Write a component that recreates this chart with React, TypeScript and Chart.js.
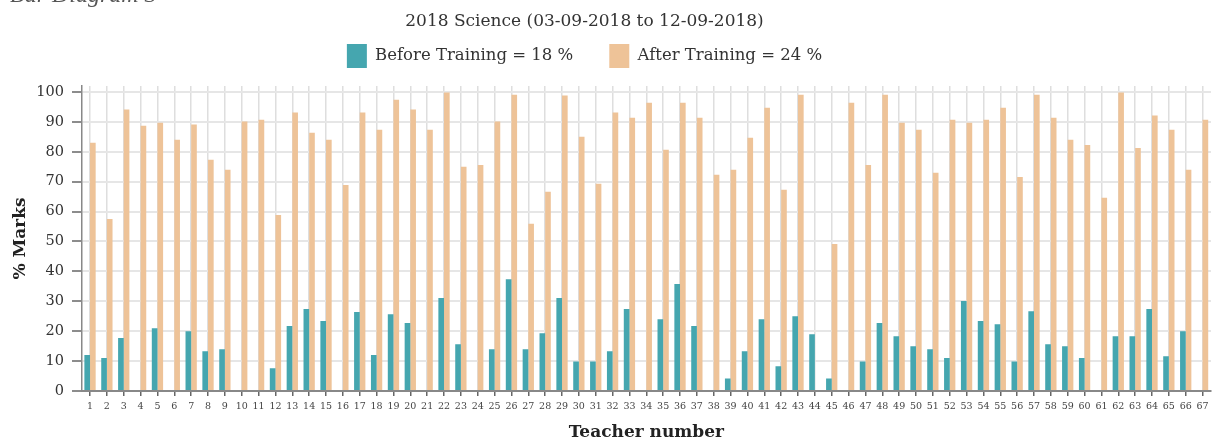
import React, { useEffect, useRef } from "react";
import { Chart, registerables } from "chart.js";

Chart.register(...registerables);

const teachers: string[] = Array.from({ length: 67 }, (_, i) => String(i + 1));

const beforeTraining: number[] = [
  12.0, 11.0, 17.7, 0, 21.0, 0, 20.0, 13.3, 14.0, 0,
  0, 7.6, 21.7, 27.4, 23.4, 0, 26.4, 12.0, 25.7, 22.7,
  0, 31.1, 15.6, 0, 14.0, 37.4, 14.0, 19.3, 31.1, 9.9,
  9.9, 13.3, 27.4, 0, 24.0, 35.8, 21.7, 0, 4.2, 13.3,
  24.0, 8.3, 25.0, 19.0, 4.2, 0, 9.9, 22.7, 18.3, 15.0,
  14.0, 11.0, 30.1, 23.4, 22.3, 9.9, 26.7, 15.6, 15.0, 11.0,
  0, 18.3, 18.3, 27.4, 11.6, 20.0, 0,
];

const afterTraining: number[] = [
  83.0, 57.5, 94.1, 88.7, 89.7, 84.0, 89.1, 77.3, 74.0, 90.1,
  90.7, 58.9, 93.1, 86.4, 84.0, 68.9, 93.1, 87.4, 97.4, 94.1,
  87.4, 99.8, 75.0, 75.6, 90.1, 99.1, 55.9, 66.6, 98.8, 85.0,
  69.3, 93.1, 91.4, 96.4, 80.7, 96.4, 91.4, 72.3, 74.0, 84.7,
  94.7, 67.3, 99.1, 0, 49.2, 96.4, 75.6, 99.1, 89.7, 87.4,
  73.0, 90.7, 89.7, 90.7, 94.7, 71.6, 99.1, 91.4, 84.0, 82.3,
  64.6, 99.8, 81.3, 92.1, 87.4, 74.0, 90.7,
];

const seriesLabels: string[] = ["Before Training = 18 %", "After Training = 24 %"];
const chartTitle = "2018 Science (03-09-2018 to 12-09-2018)";
const yTitle = "% Marks";
const xTitle = "Teacher number";

const FONT = "'DejaVu Serif', 'Liberation Serif', serif";

const legendSpacer = {
  id: "legendSpacer",
  beforeInit(chart: any) {
    const legend = chart.legend;
    if (!legend) return;
    const orig = legend.fit;
    legend.fit = function () {
      orig.call(this);
      this.height += 8;
    };
  },
};

export default function App() {
  const ref = useRef<HTMLCanvasElement | null>(null);

  useEffect(() => {
    if (!ref.current) return;
    const chart = new Chart(ref.current, {
      type: "bar",
      data: {
        labels: teachers,
        datasets: [
          {
            label: seriesLabels[0],
            data: beforeTraining,
            backgroundColor: "#45A6AF",
            borderWidth: 0,
          },
          {
            label: seriesLabels[1],
            data: afterTraining,
            backgroundColor: "#EEC398",
            borderWidth: 0,
          },
        ],
      },
      options: {
        responsive: false,
        animation: false,
        events: [],
        layout: { padding: { left: 0, right: 5, top: 0, bottom: 1 } },
        datasets: {
          bar: { categoryPercentage: 0.67, barPercentage: 1.0 },
        },
        plugins: {
          title: {
            display: true,
            text: chartTitle,
            color: "#333",
            font: { family: FONT, size: 17, weight: "normal" },
            padding: { top: 11.5, bottom: -23.9 },
          },
          legend: {
            display: true,
            position: "top",
            labels: {
              boxWidth: 20,
              boxHeight: 24,
              padding: 36,
              color: "#333",
              font: { family: FONT, size: 16.5 },
            },
          },
          tooltip: { enabled: false },
        },
        scales: {
          x: {
            grid: {
              offset: false,
              color: "#dedede",
              lineWidth: 1.5,
              tickLength: 5,
              tickColor: "#666",
              tickWidth: 1.5,
            },
            border: { color: "#888", width: 2 },
            ticks: {
              color: "#444",
              padding: 5,
              maxRotation: 0,
              autoSkip: false,
              font: { family: FONT, size: 9.5 },
            },
            title: {
              display: true,
              text: xTitle,
              color: "#222",
              font: { family: FONT, size: 17, weight: "bold" },
              padding: { top: 5.2, bottom: 0 },
            },
          },
          y: {
            min: 0,
            max: 102,
            afterFit: (scale: any) => {
              scale.width = 123.6;
            },
            grid: {
              color: "#e6e6e6",
              lineWidth: 2,
              tickLength: 9.6,
              tickColor: "#666",
              tickWidth: 1.5,
            },
            border: { color: "#888", width: 1.5 },
            ticks: {
              stepSize: 10,
              includeBounds: false,
              color: "#333",
              padding: 8,
              font: { family: FONT, size: 14.5 },
            },
            title: {
              display: true,
              text: yTitle,
              color: "#222",
              font: { family: FONT, size: 17, weight: "bold" },
              padding: { top: 52.8, bottom: 0 },
            },
          },
        },
      },
      plugins: [legendSpacer],
    } as any);
    return () => chart.destroy();
  }, []);

  return (
    <div
      style={{
        position: "fixed",
        left: 0,
        top: 0,
        width: 1216,
        height: 444,
        overflow: "hidden",
        background: "#fff",
      }}
    >
      <canvas
        ref={ref}
        width={1258}
        height={444}
        style={{ position: "absolute", left: -42, top: 0, width: 1258, height: 444 }}
      />
      <div
        style={{
          position: "absolute",
          left: 10,
          top: -18,
          fontFamily: "'Liberation Serif', serif",
          fontStyle: "italic",
          fontSize: 24,
          lineHeight: "24px",
          color: "#555",
          whiteSpace: "nowrap",
        }}
      >
        Bar Diagram 3
      </div>
    </div>
  );
}
